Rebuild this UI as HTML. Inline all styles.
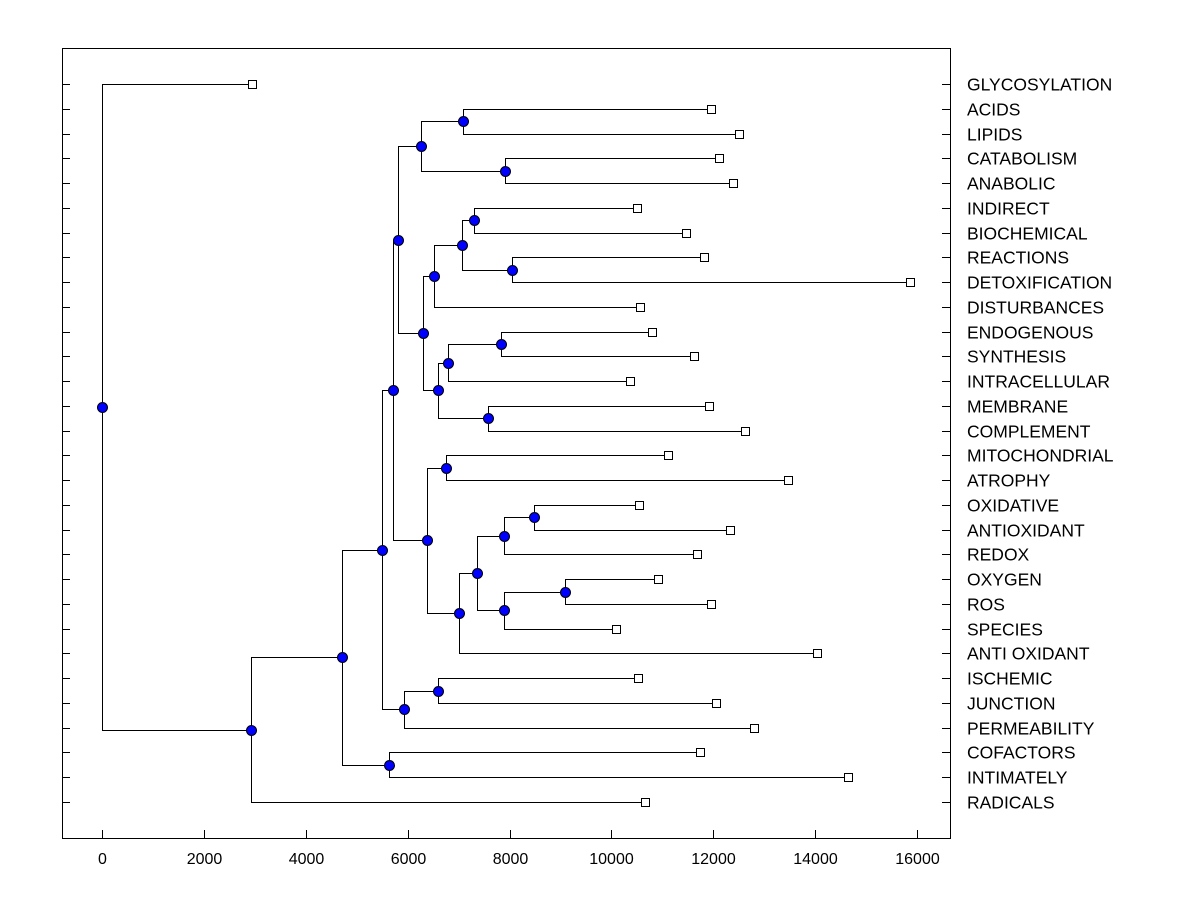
<!DOCTYPE html>
<html><head><meta charset="utf-8"><style>
html,body{margin:0;padding:0;background:#fff;}
svg{display:block;font-family:"Liberation Sans",Arial,sans-serif;}
</style></head><body>
<svg id="chart" width="1200" height="900" xmlns="http://www.w3.org/2000/svg">
<rect x="0" y="0" width="1200" height="900" fill="#fff"/>
<rect x="62.5" y="48.5" width="888" height="790" fill="none" stroke="#000"/>
<g id="ticks"></g><g id="links"></g><g id="nodes"></g><g id="labels"></g>
</svg>
<script>
const leafNames = ["GLYCOSYLATION","ACIDS","LIPIDS","CATABOLISM","ANABOLIC","INDIRECT","BIOCHEMICAL","REACTIONS","DETOXIFICATION","DISTURBANCES","ENDOGENOUS","SYNTHESIS","INTRACELLULAR","MEMBRANE","COMPLEMENT","MITOCHONDRIAL","ATROPHY","OXIDATIVE","ANTIOXIDANT","REDOX","OXYGEN","ROS","SPECIES","ANTI OXIDANT","ISCHEMIC","JUNCTION","PERMEABILITY","COFACTORS","INTIMATELY","RADICALS"];
const leafValues = [2945,11955,12505,12112,12387,10503,11465,11818,15862,10562,10797,11622,10365,11916,12623,11111,13467,10542,12328,11680,10915,11955,10090,14036,10522,12053,12800,11739,14645,10660];
// internal nodes: children refer to "L<i>" leaves or "N<k>" nodes
const mergeLeft  = ["L1","L3","N0","L5","L7","N3","N5","L10","N7","L13","N8","N6","N2","L15","L17","N14","L20","N16","N15","N18","N13","N12","L24","N22","N21","L27","N24","N26","L0"];
const mergeRight = ["L2","L4","N1","L6","L8","N4","L9","L11","L12","L14","N9","N10","N11","L16","L18","L19","L21","L22","N17","L23","N19","N20","L25","L26","N23","L28","N25","L29","N27"];
const mergeHeight = [7087,7911,6262,7303,8049,7067,6517,7833,6792,7578,6596,6301,5811,6753,8481,7892,9089,7892,7362,7008,6380,5713,6596,5929,5497,5634,4711,2925,0];
const xTicks = [0,2000,4000,6000,8000,10000,12000,14000,16000];

const NS="http://www.w3.org/2000/svg";
const xScale = v => 102 + v*(815/16000);
const yLeaf = i => 84 + i*(718/29);
function mk(tag, attrs, parent){const e=document.createElementNS(NS,tag);for(const k in attrs)e.setAttribute(k,attrs[k]);parent.appendChild(e);return e;}
const gT=document.getElementById('ticks'),gL=document.getElementById('links'),gN=document.getElementById('nodes'),gLab=document.getElementById('labels');

xTicks.forEach(t=>{
  const x=Math.round(xScale(t))+0.5;
  const l=mk('line',{x1:x,x2:x,y1:838,y2:830,stroke:'#000'},gT);
  
  
  const tx=mk('text',{x:x,y:864,'font-size':16,'text-anchor':'middle'},gT);
  tx.textContent=t;
  
  
});
leafNames.forEach((n,i)=>{
  const y=Math.round(yLeaf(i))+0.5;
  const a=mk('line',{x1:62,x2:70,y1:y,y2:y,stroke:'#000'},gT);
  
  
  const b=mk('line',{x1:942,x2:950,y1:y,y2:y,stroke:'#000'},gT);
  
  
  const t=mk('text',{x:967,y:y+6,'font-size':17.5},gLab);
  t.textContent=n;
  
  
});

const pos={};
leafNames.forEach((n,i)=>{pos['L'+i]={x:xScale(leafValues[i]),y:yLeaf(i)};});
mergeHeight.forEach((h,k)=>{
  const a=pos[mergeLeft[k]],b=pos[mergeRight[k]];
  const x=xScale(h);
  pos['N'+k]={x:x,y:(a.y+b.y)/2};
  const p=mk('path',{d:`M${a.x},${Math.round(a.y)+0.5}H${Math.round(x)+0.5}V${Math.round(b.y)+0.5}H${b.x}`,fill:'none',stroke:'#000','stroke-width':1},gL);
  
  
});
leafNames.forEach((n,i)=>{
  const p=pos['L'+i];
  const r=mk('rect',{x:Math.round(p.x)-3.5,y:Math.round(p.y)-3.5,width:8,height:8,fill:'#fff',stroke:'#000'},gN);
  
  
});
mergeHeight.forEach((h,k)=>{
  const p=pos['N'+k];
  const c=mk('circle',{cx:Math.round(p.x)+0.5,cy:Math.round(p.y)+0.5,r:5,fill:'#0000ff',stroke:'#000'},gN);
  
  
});
</script>
</body></html>
